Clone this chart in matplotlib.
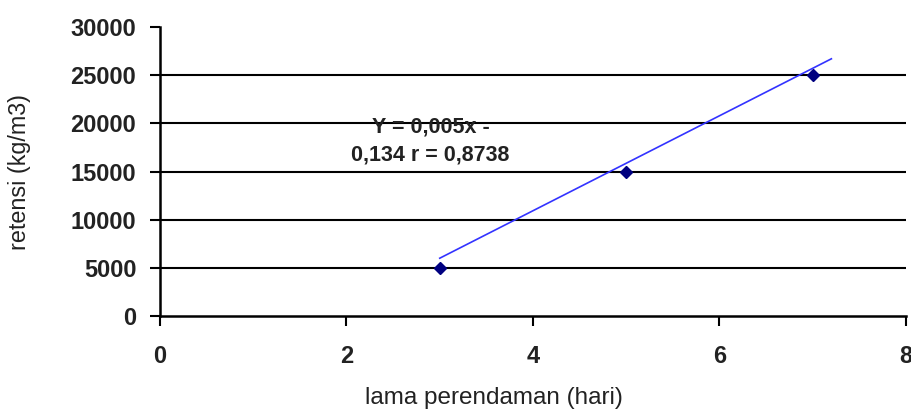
import matplotlib
matplotlib.use("Agg")
import matplotlib.pyplot as plt

# Data
days = [3, 5, 7]
retention = [5000, 15000, 25000]
trend_x = [3, 7.2]
trend_y = [6000, 26700]
x_ticks = [0, 2, 4, 6, 8]
y_ticks = [0, 5000, 10000, 15000, 20000, 25000, 30000]
equation = "Y = 0,005x -\n0,134 r = 0,8738"

plt.rcParams['font.family'] = ['Liberation Sans', 'DejaVu Sans']

fig = plt.figure(figsize=(9.11, 4.11), dpi=100)
ax = fig.add_axes([0.1756, 0.2311, 0.8189, 0.7032])

for yv in y_ticks[1:-1]:
    ax.axhline(yv, color='black', linewidth=1.5, zorder=1)

ax.plot(trend_x, trend_y, color='#3333ff', linewidth=1.2, zorder=2)
ax.plot(days, retention, linestyle='none', marker='D', markersize=6.5,
        color='#000080', zorder=3)

ax.text(2.9, 18150, equation, ha='center', va='center', fontsize=15.5,
        fontweight='bold', color='#222222', linespacing=1.4, zorder=4)

ax.set_xlim(0, 8)
ax.set_ylim(0, 30000)
ax.set_xticks(x_ticks)
ax.set_yticks(y_ticks)
ax.set_xticklabels([str(v) for v in x_ticks])
ax.set_yticklabels([str(v) for v in y_ticks])

for s in ['top', 'right']:
    ax.spines[s].set_visible(False)
for s in ['left', 'bottom']:
    ax.spines[s].set_linewidth(1.8)
    ax.spines[s].set_color('black')

ax.tick_params(axis='both', direction='out', length=7, width=1.5,
               labelsize=17, colors='black', labelcolor='#222222')
ax.tick_params(axis='x', pad=14)
ax.tick_params(axis='y', pad=10)
for lbl in ax.get_xticklabels() + ax.get_yticklabels():
    lbl.set_fontweight('bold')

ax.set_xlabel('lama perendaman (hari)', fontsize=17.5, color='#222222', va='center')
ax.set_ylabel('retensi (kg/m3)', fontsize=16.8, color='#222222', va='center')
ax.xaxis.set_label_coords(0.448, -0.284)
ax.yaxis.set_label_coords(-0.1877, 0.5)

fig.savefig('out.png', dpi=100)
